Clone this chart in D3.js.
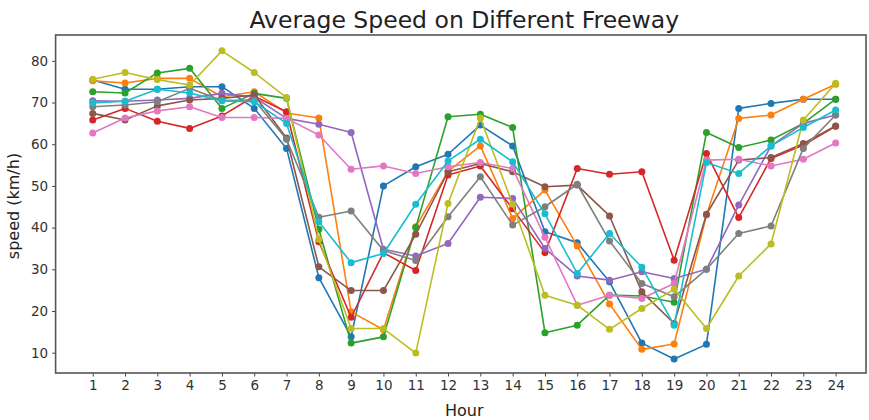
<!DOCTYPE html>
<html>
<head>
<meta charset="utf-8">
<script src="https://cdn.jsdelivr.net/npm/d3@7"></script>
<style>
  html, body { margin: 0; padding: 0; background: #fff; }
  svg { display: block; font-family: "DejaVu Sans", sans-serif; }
</style>
</head>
<body>
<svg id="chart" width="869" height="420"></svg>
<script>
// Hours of the day
const hours = d3.range(1, 25);

// Average speed (km/h) per freeway, one array per line
const freeway1 = [75.4, 73.2, 73.2, 73.8, 73.8, 68.6, 59.0, 28.0, 13.8, 50.0, 54.6, 57.6, 64.6, 59.6, 39.0, 36.4, 27.0, 12.3, 8.5, 12.0, 68.6, 69.8, 70.8, 70.8];
const freeway2 = [75.2, 74.7, 75.8, 75.8, 71.4, 72.6, 67.5, 66.3, 19.8, 15.5, 40.2, 53.5, 59.6, 42.2, 49.0, 35.6, 21.7, 10.8, 12.1, 43.0, 66.2, 67.0, 70.8, 74.4];
const freeway3 = [72.6, 72.3, 77.1, 78.2, 68.6, 72.2, 71.0, 39.6, 12.3, 13.8, 40.0, 66.6, 67.2, 64.0, 14.8, 16.6, 23.8, 23.6, 22.1, 62.8, 59.2, 61.0, 65.0, 70.8];
const freeway4 = [65.8, 68.6, 65.5, 63.8, 66.8, 71.5, 67.8, 36.6, 18.5, 34.0, 29.7, 52.6, 54.8, 44.5, 34.0, 54.2, 52.8, 53.4, 32.2, 57.8, 42.4, 56.6, 59.8, 64.3];
const freeway5 = [70.4, 70.3, 70.6, 71.0, 72.2, 71.3, 66.2, 64.8, 62.8, 34.8, 33.2, 36.2, 47.3, 47.0, 35.0, 28.4, 27.4, 29.4, 27.8, 30.0, 45.4, 59.6, 65.0, 67.0];
const freeway6 = [67.4, 65.8, 69.2, 70.6, 71.0, 71.8, 61.5, 30.6, 24.9, 24.9, 38.4, 53.4, 55.4, 53.4, 49.8, 50.2, 42.8, 24.6, 17.0, 43.2, 56.2, 56.8, 60.2, 64.4];
const freeway7 = [62.7, 66.3, 68.0, 69.0, 66.4, 66.4, 66.2, 62.2, 54.0, 54.8, 53.0, 54.6, 55.6, 54.2, 37.7, 21.4, 23.8, 23.0, 26.6, 56.2, 56.4, 54.8, 56.4, 60.3];
const freeway8 = [69.0, 69.4, 70.2, 73.4, 70.5, 70.6, 61.2, 42.5, 44.0, 34.5, 32.1, 42.6, 52.2, 40.6, 45.0, 50.4, 36.8, 26.6, 23.4, 30.0, 38.6, 40.4, 59.0, 67.0];
const freeway9 = [75.6, 77.2, 75.5, 74.2, 82.4, 77.2, 71.2, 37.2, 15.8, 15.8, 9.9, 45.8, 66.3, 45.6, 23.8, 21.4, 15.6, 20.6, 25.2, 15.8, 28.4, 36.1, 65.8, 74.6];
const freeway10 = [69.9, 70.3, 73.2, 72.3, 70.4, 70.2, 65.0, 41.4, 31.6, 33.8, 45.6, 56.0, 61.2, 55.8, 43.3, 29.0, 38.6, 30.5, 16.6, 55.6, 53.0, 59.6, 64.0, 68.2];

const seriesList = [freeway1, freeway2, freeway3, freeway4, freeway5,
                    freeway6, freeway7, freeway8, freeway9, freeway10];
const colors = ["#1f77b4", "#ff7f0e", "#2ca02c", "#d62728", "#9467bd",
                "#8c564b", "#e377c2", "#7f7f7f", "#bcbd22", "#17becf"];

const yTicks = [10, 20, 30, 40, 50, 60, 70, 80];
const titleText = "Average Speed on Different Freeway";
const xLabel = "Hour";
const yLabel = "speed (km/h)";

// Plot area
const plot = { left: 55.6, top: 35, right: 866, bottom: 373 };

const svg = d3.select("#chart");

const x = d3.scaleLinear()
  .domain([-0.15, 24.94])
  .range([plot.left, plot.right]);

const y = d3.scaleLinear()
  .domain([5.13, 86.2])
  .range([plot.bottom, plot.top]);

// Lines and markers
const line = d3.line()
  .x((d, i) => x(hours[i]))
  .y(d => y(d));

const g = svg.append("g");
seriesList.forEach((vals, k) => {
  const s = g.append("g");
  s.append("path")
    .datum(vals)
    .attr("d", line)
    .attr("fill", "none")
    .attr("stroke", colors[k])
    .attr("stroke-width", 1.6)
    .attr("stroke-linejoin", "round");
  s.selectAll("circle")
    .data(vals)
    .join("circle")
    .attr("cx", (d, i) => x(hours[i]))
    .attr("cy", d => y(d))
    .attr("r", 3.5)
    .attr("fill", colors[k]);
});

// Axes
const xAxis = d3.axisBottom(x)
  .tickValues(hours)
  .tickFormat(d3.format("d"))
  .tickSize(3.5)
  .tickPadding(4);
const yAxis = d3.axisLeft(y)
  .tickValues(yTicks)
  .tickFormat(d3.format("d"))
  .tickSize(3.5)
  .tickPadding(4);

const axisColor = "#444";

const gx = svg.append("g")
  .attr("transform", `translate(0,${plot.bottom})`)
  .call(xAxis);
const gy = svg.append("g")
  .attr("transform", `translate(${plot.left},0)`)
  .call(yAxis);

[gx, gy].forEach(a => {
  a.select(".domain").remove();
  a.selectAll(".tick line").attr("stroke", axisColor).attr("stroke-width", 1);
  a.selectAll(".tick text")
    .attr("fill", "#333")
    .style("font-size", "13.5px")
    .style("font-family", "DejaVu Sans, sans-serif");
});

// Frame
svg.append("rect")
  .attr("x", plot.left)
  .attr("y", plot.top)
  .attr("width", plot.right - plot.left)
  .attr("height", plot.bottom - plot.top)
  .attr("fill", "none")
  .attr("stroke", "#555")
  .attr("stroke-width", 1.6);

// Titles
svg.append("text")
  .attr("x", (55.6 + 872.9) / 2)
  .attr("y", 28)
  .attr("text-anchor", "middle")
  .attr("fill", "#222")
  .style("font-size", "23.5px")
  .text(titleText);

svg.append("text")
  .attr("x", (55.6 + 872.9) / 2)
  .attr("y", 416)
  .attr("text-anchor", "middle")
  .attr("fill", "#222")
  .style("font-size", "16px")
  .text(xLabel);

svg.append("text")
  .attr("transform", `translate(19,${(plot.top + plot.bottom) / 2 + 2}) rotate(-90)`)
  .attr("text-anchor", "middle")
  .attr("fill", "#222")
  .style("font-size", "16px")
  .text(yLabel);
</script>
</body>
</html>
